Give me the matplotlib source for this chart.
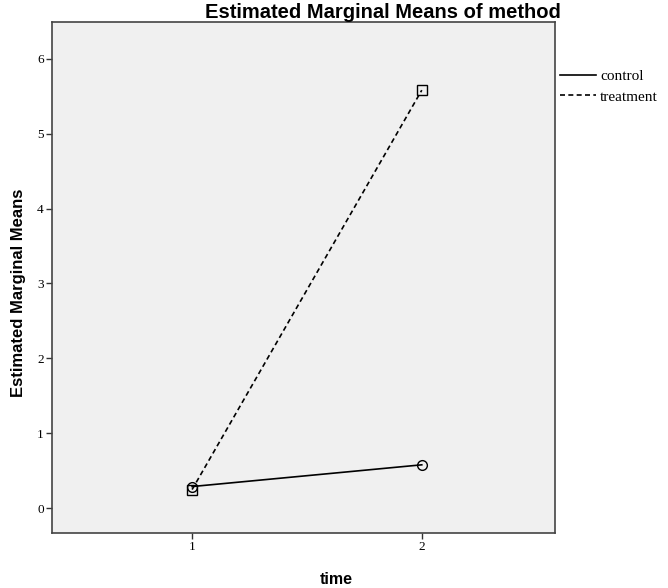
import matplotlib.pyplot as plt

# Estimated marginal means
time_points = [1, 2]
control = [0.29, 0.58]
treatment = [0.25, 5.58]
y_ticks = [0, 1, 2, 3, 4, 5, 6]

fig = plt.figure(figsize=(6.68, 5.88), dpi=100)
ax = fig.add_axes([52 / 668, 1 - 533 / 588, 503 / 668, 511 / 588])
ax.set_facecolor('#f0f0f0')

ax.plot(time_points, control, color='black', linestyle='-', linewidth=1.2,
        marker='o', markersize=7, markerfacecolor='none', markeredgewidth=1, label='control')
ax.plot(time_points, treatment, color='black', linestyle=(0, (3, 2)), linewidth=1.2,
        marker='s', markersize=7, markerfacecolor='none', markeredgewidth=1, label='treatment')

ax.set_xlim(0.39, 2.58)
ax.set_ylim(-0.33, 6.49)
ax.set_xticks(time_points)
ax.set_yticks(y_ticks)

serif = 'Liberation Serif'
sans = 'Liberation Sans'
for lab in ax.get_xticklabels() + ax.get_yticklabels():
    lab.set_fontfamily(serif)
    lab.set_fontsize(9.5)
ax.tick_params(direction='out', length=4, width=1, color='#333333', pad=2)

for s in ax.spines.values():
    s.set_color('#444444')
    s.set_linewidth(1.2)

ax.set_xlabel('time', fontfamily=sans, fontweight='bold', fontsize=11.5)
ax.xaxis.set_label_coords(0.565, -0.076)
ax.set_ylabel('Estimated Marginal Means', fontfamily=sans, fontweight='bold', fontsize=12)
ax.yaxis.set_label_coords(-0.052, 0.47)

fig.text(383 / 668, 1 - 12 / 588, 'Estimated Marginal Means of method', ha='center', va='center',
         fontfamily=sans, fontweight='bold', fontsize=14.5)

leg = ax.legend(loc='upper left', bbox_to_anchor=(1.0, 0.916), frameon=False,
                prop={'family': serif, 'size': 11}, handlelength=2.4, handletextpad=0.25,
                labelspacing=0.45, borderaxespad=0.1, borderpad=0.2)
for h in leg.legend_handles:
    h.set_marker('')

fig.savefig('out.png', dpi=100)
